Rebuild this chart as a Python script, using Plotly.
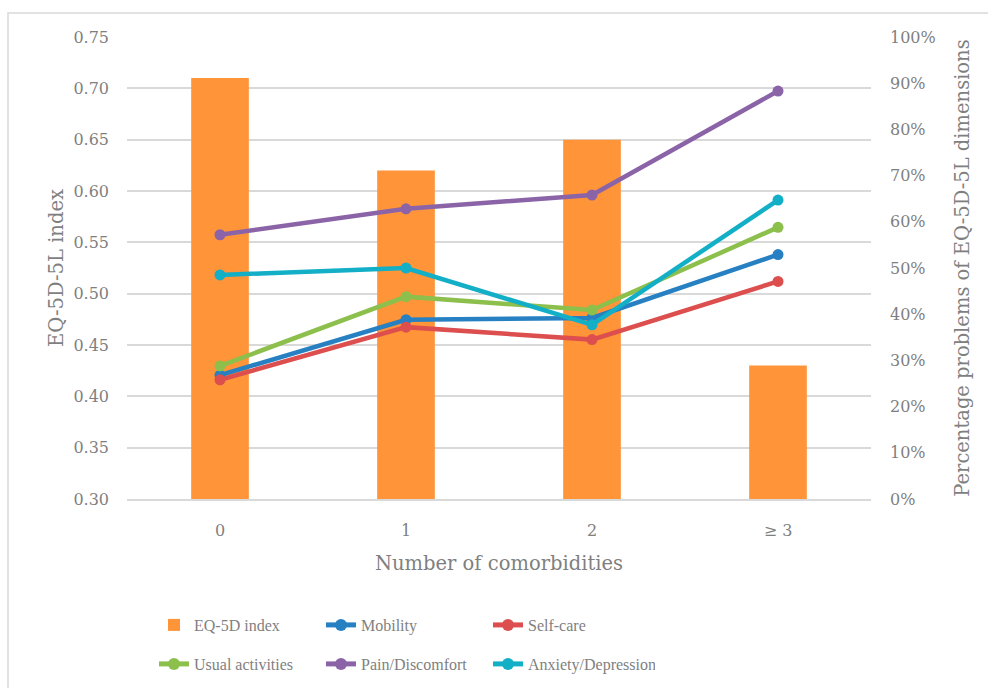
import plotly.graph_objects as go

# Number of comorbidities
categories = ["0", "1", "2", "≥ 3"]

# Mean EQ-5D-5L index per group (left axis)
eq5d_index = [0.71, 0.62, 0.65, 0.43]

# Share of respondents reporting problems per dimension (right axis, fraction)
mobility = [0.268, 0.388, 0.392, 0.529]
self_care = [0.258, 0.372, 0.345, 0.471]
usual_activities = [0.288, 0.438, 0.409, 0.588]
pain_discomfort = [0.572, 0.628, 0.658, 0.883]
anxiety_depression = [0.485, 0.500, 0.377, 0.647]

FONT = "DejaVu Serif"
LEGEND_FONT = "Liberation Serif"
GRAY = "#7f7f7f"
GRID = "#d9d9d9"

fig = go.Figure()

fig.add_trace(go.Bar(
    x=categories, y=eq5d_index, name="EQ-5D index",
    marker=dict(color="#ff9438", line=dict(width=0)),
    width=0.31, yaxis="y", legend="legend",
))

dims = [
    ("Mobility", mobility, "#2680c2", "legend"),
    ("Self-care", self_care, "#dd4e4e", "legend"),
    ("Usual activities", usual_activities, "#8cbf4c", "legend2"),
    ("Pain/Discomfort", pain_discomfort, "#8b64a8", "legend2"),
    ("Anxiety/Depression", anxiety_depression, "#12afc7", "legend2"),
]
for name, vals, color, leg in dims:
    fig.add_trace(go.Scatter(
        x=categories, y=vals, name=name, mode="lines+markers",
        line=dict(color=color, width=4.5),
        marker=dict(color=color, size=11),
        yaxis="y2", legend=leg,
    ))

# plot area geometry (pixels)
L, R, T, B = 127, 117, 37, 189
W, H = 988, 688
pw, ph = W - L - R, H - T - B

def px_x(p):
    return (p - L) / pw

def px_y(p):
    return (H - B - p) / ph

legend_common = dict(
    orientation="h", xanchor="left", yanchor="middle",
    xref="container", yref="container",
    entrywidth=122, entrywidthmode="pixels",
    font=dict(family=LEGEND_FONT, size=16, color=GRAY),
    bgcolor="rgba(0,0,0,0)", itemsizing="constant",
)

TITLE_SIZE = 19.5

fig.update_layout(
    width=W, height=H,
    margin=dict(l=L, r=R, t=T, b=B),
    paper_bgcolor="white", plot_bgcolor="white",
    font=dict(family=FONT, size=16, color=GRAY),
    showlegend=True,
    legend=dict(x=(157 - 3) / W, y=1 - 625 / H, **legend_common),
    legend2=dict(x=(157 - 3) / W, y=1 - 664 / H, **legend_common),
    xaxis=dict(
        type="category", showgrid=False, showline=True, linecolor=GRID,
        linewidth=1.5, ticks="", ticklabelstandoff=16,
        tickfont=dict(size=16, color=GRAY),
        title=dict(text="Number of comorbidities", standoff=17,
                   font=dict(size=TITLE_SIZE, color=GRAY)),
    ),
    yaxis=dict(
        range=[0.30, 0.75], dtick=0.05, tickformat=".2f",
        showgrid=True, gridcolor=GRID, gridwidth=1.5, zeroline=False,
        tickfont=dict(size=16, color=GRAY), ticks="", ticklabelstandoff=17,
        title=dict(text="EQ-5D-5L index", standoff=4,
                   font=dict(size=TITLE_SIZE, color=GRAY)),
    ),
    yaxis2=dict(
        range=[0, 1], dtick=0.1, tickformat=".0%", overlaying="y",
        side="right", showgrid=False, zeroline=False, ticks="",
        ticklabelstandoff=18, tickfont=dict(size=16, color=GRAY),
        title=dict(text="Percentage problems of EQ-5D-5L dimensions",
                   standoff=20, font=dict(size=TITLE_SIZE, color=GRAY)),
    ),
    shapes=[dict(
        type="rect", xref="paper", yref="paper",
        x0=px_x(8), x1=px_x(1000), y0=px_y(700), y1=px_y(13),
        line=dict(color=GRID, width=1.5), fillcolor="rgba(0,0,0,0)",
        layer="below",
    )],
)

fig.write_html("out.html")
